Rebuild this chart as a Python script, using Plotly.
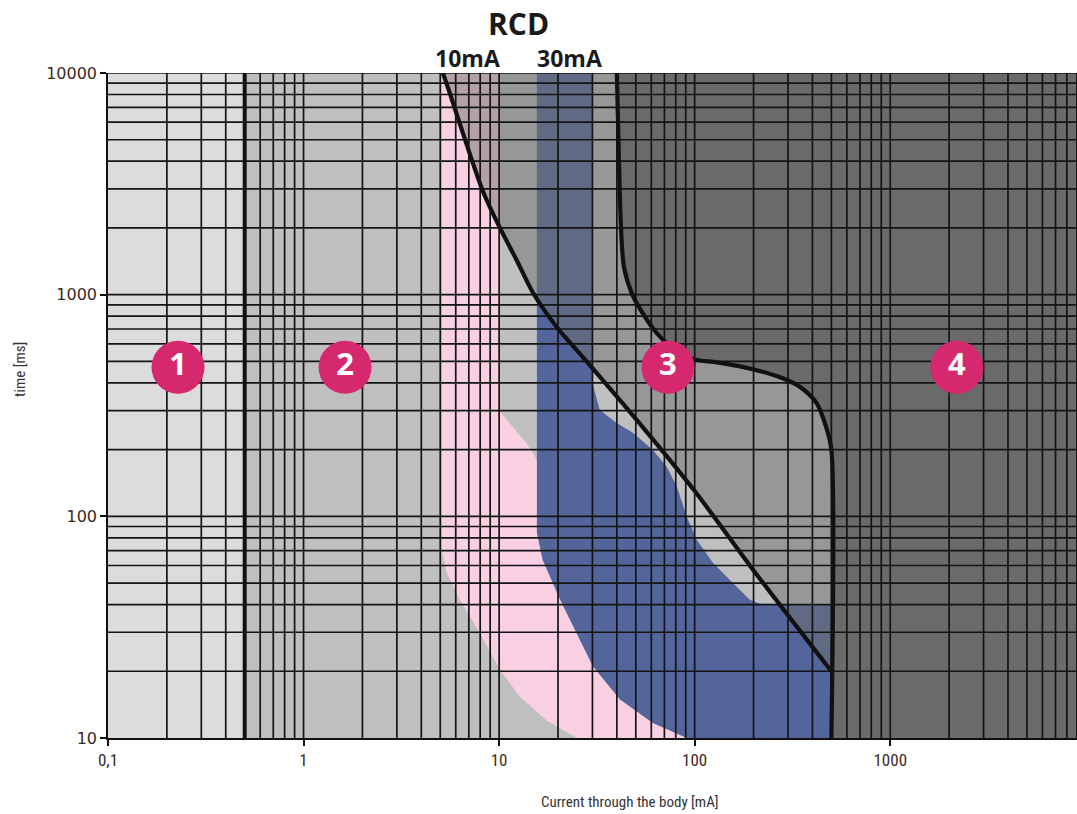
import plotly.graph_objects as go

# ---------------- data ----------------
# curve b : boundary zone 2 / zone 3  (current mA, time ms)
b_x = [5.16, 5.6, 6.8, 8.3, 10.1, 12.3, 14.9, 19.7, 26.8, 50, 100, 200, 500]
b_y = [10000, 8100, 4800, 2900, 2000, 1430, 1020, 715, 523, 275, 130, 57, 20]

# curve c1 : boundary zone 3 / zone 4
c_x = [40, 41, 42, 43.5, 48, 57, 65, 78, 100, 130, 200, 280, 345, 420, 470, 500, 500]
c_y = [10000, 4000, 2000, 1330, 1000, 770, 660, 570, 510, 495, 460, 421, 384, 324, 253, 200, 10]

# 10 mA RCD area (pink)
pink_x = [5.1, 10, 10, 13.8, 17, 40, 100, 25, 17.5, 12.8, 10.1, 7.98, 6.3, 5.39, 5.1]
pink_y = [10000, 10000, 300, 214, 160, 60, 10, 10, 12, 15.3, 20.3, 29.7, 42, 55.6, 70]

# 30 mA RCD area (blue)
blue_x = [15.6, 30, 30, 32.7, 39.9, 48.3, 61.1, 72.1, 81.1, 91.2, 102.6, 123.9, 156.7,
          191.4, 215, 500, 500, 91, 61.1, 41.5, 30.2, 24.9, 20.5, 16.7, 15.6]
blue_y = [10000, 10000, 398, 302, 264, 238, 199, 167, 136, 99.3, 78.3, 61.7, 50,
          42, 40.3, 40, 10, 10, 11.7, 14.9, 21, 29.7, 42, 63.6, 84]

zone1_limit = 0.5
x_min, x_max = 0.1, 10000
y_min, y_max = 10, 10000

zone_labels = ["1", "2", "3", "4"]
zone_label_x = [0.228, 1.63, 73, 2190]
zone_label_y = [470, 470, 470, 470]

x_tick_vals = [0.1, 1, 10, 100, 1000]
x_tick_text = ["0,1", "1", "10", "100", "1000"]
y_tick_vals = [10, 100, 1000, 10000]
y_tick_text = ["10", "100", "1000", "10000"]

decades_x = [0.1, 1, 10, 100, 1000]
decades_y = [10, 100, 1000]
steps = [1, 2, 3, 4, 5, 6, 7, 8, 9]

# ---------------- figure ----------------
ZONE1 = "#dcdcdc"
ZONE2 = "#bfbfbf"
ZONE3 = "rgba(112,112,112,0.5)"
ZONE4 = "#6a6a6a"
PINK = "#f9d0e2"
BLUE = "#53659a"
MAGENTA = "#d6286f"
GRID = "#141414"

fig = go.Figure()

def poly(xs, ys, color):
    fig.add_trace(go.Scatter(x=xs, y=ys, mode="lines", fill="toself",
                             fillcolor=color, line=dict(width=0, color=color),
                             hoverinfo="skip", showlegend=False))

# zone 1
poly([x_min, zone1_limit, zone1_limit, x_min], [y_min, y_min, y_max, y_max], ZONE1)
# RCD areas
poly(pink_x, pink_y, PINK)
poly(blue_x, blue_y, BLUE)
# zone 3 (between curve b and c1)
z3_x = b_x + [500] + c_x[::-1][1:]
z3_y = b_y + [200] + c_y[::-1][1:]
poly(z3_x, z3_y, ZONE3)
# zone 4
poly(c_x + [x_max, x_max], c_y + [y_min, y_max], ZONE4)

# grid lines (drawn above the fills)
gx, gy = [], []
for d in decades_x:
    for s in steps:
        v = d * s
        if v <= x_min * 1.0001:
            continue
        gx += [v, v, None]
        gy += [y_min, y_max, None]
for d in decades_y:
    for s in steps:
        v = d * s
        if v <= y_min * 1.0001:
            continue
        gx += [x_min, x_max, None]
        gy += [v, v, None]
gx += [x_min, x_max, None]
gy += [y_max, y_max, None]
fig.add_trace(go.Scatter(x=gx, y=gy, mode="lines", line=dict(color=GRID, width=1.7),
                         hoverinfo="skip", showlegend=False, connectgaps=False))

# zone 1 / 2 boundary
fig.add_trace(go.Scatter(x=[zone1_limit, zone1_limit], y=[y_min, y_max], mode="lines",
                         line=dict(color="#111111", width=4), hoverinfo="skip", showlegend=False))
# curve b
fig.add_trace(go.Scatter(x=b_x, y=b_y, mode="lines",
                         line=dict(color="#111111", width=4.2, shape="spline", smoothing=0.8),
                         hoverinfo="skip", showlegend=False))
# curve c1
fig.add_trace(go.Scatter(x=c_x, y=c_y, mode="lines",
                         line=dict(color="#111111", width=4.2, shape="spline", smoothing=0.8),
                         hoverinfo="skip", showlegend=False))

# zone number badges
fig.add_trace(go.Scatter(x=zone_label_x, y=zone_label_y, mode="markers+text",
                         text=zone_labels, textposition="middle center",
                         marker=dict(size=53, color=MAGENTA, line=dict(width=0)),
                         textfont=dict(color="white", size=31, family="Open Sans", weight="bold"),
                         hoverinfo="skip", showlegend=False))

fig.update_xaxes(type="log", range=[-1, 3.955], showgrid=False, zeroline=False,
                 showline=True, linecolor="#111111", linewidth=1.5,
                 ticks="outside", ticklen=6, tickcolor="#111111", tickwidth=1.5,
                 tickvals=x_tick_vals, ticktext=x_tick_text, automargin=False,
                 tickfont=dict(family="Roboto Condensed, Liberation Sans Narrow, Roboto, sans-serif",
                               size=17, color="#3d2a1e"))
fig.update_yaxes(type="log", range=[1, 4], showgrid=False, zeroline=False,
                 showline=True, linecolor="#111111", linewidth=1.5,
                 ticks="outside", ticklen=6, tickcolor="#111111", tickwidth=1.5,
                 tickvals=y_tick_vals, ticktext=y_tick_text, automargin=False,
                 tickfont=dict(family="DejaVu Sans, sans-serif", size=16, color="#3d2a1e"))

W, H = 1077, 814
L, R, T, B = 108, 0, 73, 76
pw, ph = W - L - R, H - T - B

def ann(text, px, py, font, angle=0):
    return dict(text=text, xref="paper", yref="paper",
                x=(px - L) / pw, y=1 - (py - T) / ph,
                xanchor="center", yanchor="middle", showarrow=False,
                textangle=angle, font=font)

fig.update_layout(
    width=W, height=H,
    margin=dict(l=L, r=R, t=T, b=B, pad=0),
    paper_bgcolor="white", plot_bgcolor=ZONE2,
    showlegend=False,
    annotations=[
        ann("RCD", 518, 24, dict(family="Open Sans", size=30, color="#1a1a1a", weight="bold")),
        ann("10mA", 467, 58, dict(family="Open Sans", size=23, color="#1a1a1a", weight="bold")),
        ann("30mA", 569, 58, dict(family="Open Sans", size=23, color="#1a1a1a", weight="bold")),
        ann("time [ms]", 20, 370, dict(family="Roboto Condensed, Liberation Sans Narrow, Roboto, sans-serif",
                                        size=15, color="#333333"), angle=-90),
        ann("Current through the body [mA]", 630, 802,
            dict(family="Roboto Condensed, Liberation Sans Narrow, Roboto, sans-serif",
                 size=15, color="#333333")),
    ],
)

fig.write_html("out.html",
               config={"displayModeBar": False},
               post_script="document.body.style.margin='0px';document.body.style.overflow='hidden';")
